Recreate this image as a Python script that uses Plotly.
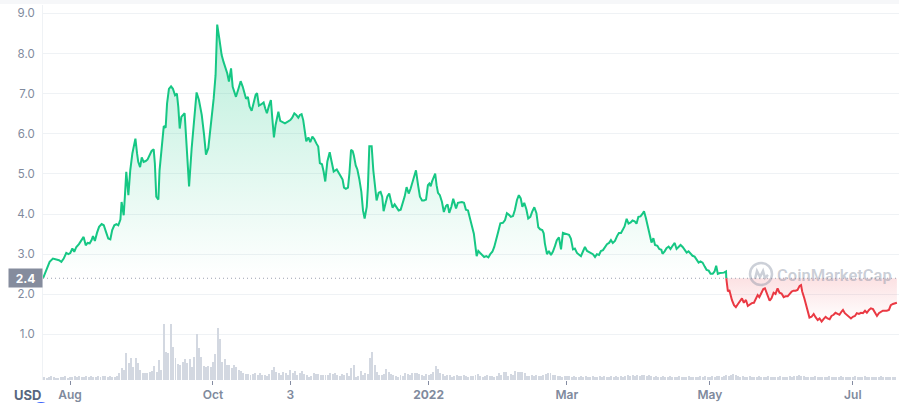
import pandas as pd
import plotly.graph_objects as go

# ---------------- data ----------------
START = pd.Timestamp("2021-07-20")

# price samples: days since START, price in USD
price_day = [
    0.5, 1.9, 3.3, 4.7, 6.2, 7.3, 8.3, 9.3, 10.4, 11.3, 12.1, 13.0, 13.8, 14.7, 15.8, 16.8, 17.8, 18.7, 19.5, 20.4,
    21.2, 21.8, 22.6, 23.5, 24.4, 25.5, 26.4, 27.2, 28.3, 29.2, 30.0, 30.9, 31.8, 32.6, 33.5, 34.0, 34.9, 35.4, 36.0, 36.9,
    37.7, 38.6, 39.1, 39.9, 40.6, 41.1, 41.9, 42.6, 43.4, 44.3, 45.1, 46.0, 46.8, 47.7, 48.2, 48.8, 49.7, 50.2, 51.1, 52.0,
    52.8, 53.4, 54.2, 55.1, 55.9, 56.8, 57.6, 58.2, 58.8, 59.5, 60.9,
    62.8, 63.9, 64.9, 66.0, 67.0, 68.2, 69.2, 70.0, 71.0, 72.1, 73.3, 74.1, 74.8, 75.7, 76.7, 77.5, 78.4, 79.1, 79.8, 80.7,
    81.4, 82.1, 82.8, 83.8, 84.8, 85.7, 86.4, 87.1, 87.9, 88.6, 89.5, 90.3, 91.2, 91.8, 92.6, 93.5, 94.6, 95.3, 96.0, 96.9,
    97.7, 98.3, 99.0, 99.7, 100.9, 101.7, 102.6, 103.7, 104.9, 106.0, 106.8, 107.7, 108.5, 109.4, 110.1, 110.8, 111.5, 112.2, 112.8, 113.7,
    114.5, 115.4, 116.2, 117.1, 117.9, 118.6, 119.5, 120.2, 120.9, 121.8, 122.8, 123.6, 124.5,
    125.8, 126.6, 127.5, 128.3, 128.9, 129.7, 130.6, 131.2, 131.9, 132.6, 133.1, 133.9, 134.6, 135.4, 136.3, 137.0, 137.7, 138.6, 139.1, 139.7,
    140.7, 141.4, 142.3, 142.8, 143.7, 144.5, 145.2, 145.8, 146.5, 147.4, 148.2, 148.9, 149.6, 150.5, 151.4, 152.2, 153.1, 153.9, 154.8, 155.6,
    156.5, 157.3, 158.2, 158.9, 159.6, 160.5, 161.3, 162.2, 163.0, 163.9, 164.7, 165.3, 165.9, 166.4, 167.3, 167.8, 168.4, 169.0, 169.8, 170.7,
    171.5, 172.4, 173.1, 173.8, 174.7, 175.5, 176.1, 176.7, 177.5, 178.4, 179.2, 180.1, 180.9, 181.8, 182.6, 183.5, 184.3,
    185.5, 186.2, 187.0, 187.9, 188.7, 189.6, 190.5, 191.3, 192.2, 193.0, 193.9, 194.7, 195.6, 196.7, 197.6, 198.4, 199.3, 200.1, 201.0, 201.8,
    202.7, 203.5, 204.3, 205.0, 205.8, 206.7, 207.5, 208.4, 209.2, 210.1, 211.0, 211.8, 212.6, 213.5, 214.1, 214.6, 215.5, 216.3, 217.2, 218.0,
    218.9, 219.7, 220.6, 221.5, 222.3, 223.2, 224.0, 224.9, 225.7, 226.6, 227.4, 228.3, 229.1, 230.0, 230.8, 231.7, 232.6, 233.4, 234.3, 235.1,
    236.0, 236.8, 237.7, 238.5, 239.4, 240.2, 241.1, 242.0, 242.8, 243.6, 244.5, 245.4, 246.2, 247.1, 247.9,
    248.6, 249.5, 250.3, 251.2, 252.0, 252.9, 253.7, 254.5, 255.4, 256.3, 256.9, 257.7, 258.6, 259.4, 260.1, 260.9, 261.6, 262.6, 263.4, 264.3,
    264.8, 265.7, 266.5, 267.4, 268.2, 269.1, 270.0, 270.8, 271.7, 272.5, 273.4, 274.2, 275.1, 275.9, 276.8, 277.6, 278.5, 279.3, 280.2, 281.0,
    281.9, 282.8, 283.6, 284.5, 285.3, 286.2, 287.0, 287.7, 288.4, 289.3, 290.1, 291.0, 291.9, 292.0,
    292.2, 292.7, 293.3, 293.8, 294.4, 295.3, 296.1, 297.0, 297.8, 298.7, 299.5, 300.4, 301.2, 302.1, 302.9, 303.8, 304.6, 305.4, 306.1, 306.9,
    307.8, 308.5, 309.6, 310.5, 311.3, 312.2, 313.0, 313.9, 314.7, 315.6, 316.5, 317.3, 318.2, 319.0, 319.9, 320.7, 321.6, 322.4, 323.3, 323.9,
    324.4, 325.3, 326.1, 327.0, 327.5, 328.4, 329.3, 330.1, 331.0, 331.8, 332.7, 333.5, 334.4, 335.2, 336.1, 336.9, 337.8, 338.6, 339.5, 340.3,
    341.2, 341.8, 342.6, 343.5, 344.3, 345.2, 346.0, 346.9, 347.7, 348.6, 349.5, 350.3, 351.2, 352.0, 352.9, 353.7, 354.6, 355.4, 356.3, 357.1,
    358.0, 358.8, 359.7, 360.5, 361.4, 362.2, 363.1, 363.9, 364.8,
]
price_usd = [
    2.40, 2.60, 2.81, 2.89, 2.87, 2.85, 2.81, 2.89, 3.03, 3.00, 3.03, 3.14, 3.06, 3.18, 3.25, 3.35, 3.43, 3.22, 3.28, 3.27,
    3.35, 3.45, 3.33, 3.53, 3.68, 3.75, 3.72, 3.58, 3.39, 3.37, 3.60, 3.72, 3.75, 3.72, 3.86, 4.30, 3.97, 4.43, 5.05, 4.47,
    5.09, 5.51, 5.69, 5.88, 5.51, 5.30, 5.17, 5.41, 5.30, 5.32, 5.36, 5.46, 5.57, 5.61, 5.26, 4.43, 4.36, 5.09, 5.59, 6.19,
    6.15, 6.75, 7.12, 7.18, 7.12, 6.96, 7.00, 6.67, 6.13, 6.42, 6.51,
    4.69, 5.64, 6.22, 7.03, 6.84, 6.47, 5.97, 5.48, 5.64, 6.22, 6.88, 7.46, 8.72, 8.37, 7.96, 7.79, 7.64, 7.50, 7.30, 7.63,
    7.17, 7.01, 6.92, 7.11, 7.31, 7.17, 7.01, 6.87, 6.92, 6.68, 6.57, 6.76, 6.97, 7.01, 6.70, 6.73, 6.78, 6.63, 6.51, 6.70,
    6.84, 6.39, 5.91, 6.22, 6.55, 6.32, 6.30, 6.26, 6.30, 6.34, 6.40, 6.51, 6.47, 6.40, 6.47, 6.49, 6.34, 6.10, 5.81, 5.91,
    5.79, 5.93, 5.87, 5.76, 5.68, 5.27, 5.24, 5.06, 4.81, 5.31, 5.54, 5.31, 5.06,
    5.11, 5.01, 4.94, 4.86, 4.66, 4.63, 4.66, 5.01, 5.60, 5.57, 5.46, 5.21, 5.11, 4.88, 4.55, 4.09, 3.89, 4.18, 4.67, 5.69,
    5.69, 5.09, 4.59, 4.34, 4.53, 4.55, 4.43, 4.07, 4.24, 4.44, 4.51, 4.30, 4.16, 4.24, 4.16, 4.09, 4.11, 4.24, 4.44, 4.67,
    4.51, 4.63, 4.80, 4.96, 5.09, 4.72, 4.43, 4.34, 4.34, 4.36, 4.72, 4.76, 4.69, 4.80, 4.92, 5.01, 4.72, 4.53, 4.47, 4.30,
    4.05, 4.20, 4.24, 4.03, 4.18, 4.38, 4.26, 4.14, 4.28, 4.30, 4.30, 4.28, 4.11, 4.09, 3.91, 3.72, 3.51,
    2.95, 3.08, 3.03, 2.98, 2.93, 2.95, 2.92, 3.00, 3.06, 3.18, 3.35, 3.56, 3.77, 3.78, 3.85, 4.02, 3.98, 3.93, 3.95, 4.10,
    4.35, 4.47, 4.39, 4.18, 4.28, 4.12, 3.89, 3.93, 4.06, 4.17, 4.02, 3.67, 3.62, 3.60, 3.52, 3.27, 3.00, 3.08, 2.98, 3.06,
    3.20, 3.35, 3.42, 3.12, 3.53, 3.52, 3.50, 3.48, 3.39, 3.12, 3.14, 3.03, 2.98, 2.95, 3.06, 3.18, 3.08, 3.06, 3.02, 3.00,
    2.93, 3.00, 2.98, 3.08, 3.10, 3.18, 3.25, 3.28, 3.35, 3.28, 3.33, 3.45, 3.53, 3.53, 3.60,
    3.69, 3.88, 3.76, 3.79, 3.84, 3.82, 3.76, 3.93, 3.94, 4.01, 4.07, 3.90, 3.69, 3.48, 3.29, 3.40, 3.23, 3.21, 3.13, 3.11,
    3.01, 3.07, 3.15, 3.19, 3.13, 3.21, 3.28, 3.13, 3.19, 3.23, 3.18, 3.11, 3.04, 3.07, 3.01, 2.96, 2.94, 2.88, 2.79, 2.82,
    2.79, 2.69, 2.61, 2.59, 2.51, 2.51, 2.57, 2.71, 2.51, 2.53, 2.53, 2.54, 2.57, 2.40,
    2.32, 2.07, 2.11, 1.98, 1.86, 1.73, 1.68, 1.76, 1.84, 1.90, 1.79, 1.86, 1.71, 1.76, 1.78, 1.79, 1.88, 1.98, 1.93, 2.03,
    2.13, 2.15, 1.96, 1.84, 1.90, 2.04, 2.01, 2.15, 2.04, 2.02, 1.93, 1.95, 1.95, 2.01, 2.07, 2.09, 2.09, 2.11, 2.21, 2.23,
    2.07, 1.90, 1.73, 1.57, 1.42, 1.44, 1.51, 1.43, 1.36, 1.40, 1.32, 1.38, 1.44, 1.40, 1.38, 1.46, 1.49, 1.54, 1.51, 1.49,
    1.57, 1.61, 1.53, 1.49, 1.44, 1.40, 1.44, 1.46, 1.53, 1.51, 1.54, 1.53, 1.59, 1.54, 1.61, 1.65, 1.63, 1.54, 1.46, 1.53,
    1.57, 1.59, 1.59, 1.59, 1.61, 1.73, 1.76, 1.78, 1.79,
]

# daily traded volume (relative units), one bar per day from START
volume = [
    2, 3, 2, 3, 4, 3, 2, 2, 3, 3, 4, 2, 3, 3, 4, 3, 4, 3, 3, 4, 3, 4, 3, 3, 4, 3, 4, 4, 3, 4, 3,
    3, 4, 7, 12, 10, 27, 17, 22, 13, 22, 17, 10, 7, 7, 7, 8, 9, 14, 8, 20, 10, 56, 28, 27, 56, 33, 22, 16, 15, 18,
    21, 17, 21, 13, 23, 46, 32, 23, 14, 13, 14, 13, 18, 26, 52, 41, 18, 21, 15, 15, 12, 15, 13, 10, 9, 7, 6, 6, 5, 6,
    7, 5, 7, 5, 5, 4, 6, 10, 13, 8, 7, 5, 8, 7, 5, 10, 7, 9, 5,
    7, 9, 6, 5, 3, 4, 7, 6, 6, 5, 5, 5, 5, 7, 6, 7, 5, 4, 6, 5, 7, 4, 12, 15, 3, 4, 9, 5, 7, 6,
    22, 28, 15, 8, 5, 5, 6, 11, 8, 6, 5, 4, 3, 5, 4, 7, 6, 5, 7, 7, 7, 6, 5, 4, 6, 5, 6, 8, 14, 11,
    7, 6, 4, 5, 5, 3, 4, 5, 4, 4, 5, 4, 3, 4, 4, 5, 6, 4, 3, 4, 5, 4, 4, 3, 4, 7, 5, 8, 8, 4,
    6, 5, 9, 8, 8, 8, 7, 4, 4, 5, 4, 5, 4, 4, 5, 6, 7, 7, 5, 5, 4, 4, 3, 4, 4, 4, 3, 4, 3, 3,
    4, 3, 4, 3, 3, 4, 3, 3, 4,
    3, 4, 3, 3, 4, 3, 4, 3, 4, 3, 4, 5, 4, 5, 4, 5, 4, 5, 5, 4, 5, 4, 3, 4, 3, 3, 4, 3, 3, 4,
    3, 3, 3, 4, 3, 3, 3, 4, 3, 3, 3, 3, 4, 3, 4, 3, 3, 4, 3, 4, 4, 3, 4, 5, 4, 5, 6, 5, 4, 3,
    4, 3, 3, 4, 3, 3, 3, 4, 3, 3, 3, 4, 3, 3, 3, 3, 4, 3, 3, 3, 4, 3, 4, 4, 5, 4, 4, 3, 3, 3,
    3, 4, 3, 3, 3, 3, 3, 4, 3, 3, 3, 3, 4, 3, 3, 3, 3, 3, 4, 3, 3, 3, 4, 3, 3, 3, 3, 3, 3, 4,
    3, 3, 3, 3, 3, 3,
]

BASELINE = 2.4
tick_dates = ["2021-08-01", "2021-10-01", "2021-11-03", "2022-01-01", "2022-03-01", "2022-05-01", "2022-07-01"]
tick_labels = ["Aug", "Oct", "3", "<b>2022</b>", "Mar", "May", "Jul"]
price_ticks = [1, 2, 3, 4, 5, 6, 7, 8, 9]

# ---------------- styling ----------------
GREEN = "#16c784"
RED = "#ea3943"
GRID = "#eff2f5"
LABEL = "#808a9d"
FONT = "Inter, Roboto, sans-serif"

dates = START + pd.to_timedelta(price_day, unit="D")
vol_dates = START + pd.to_timedelta(list(range(len(volume))), unit="D")

# split where the line falls below the baseline for good
k = max(i for i, v in enumerate(price_usd) if v >= BASELINE)
g_x, g_y = dates[: k + 1], price_usd[: k + 1]
r_x, r_y = dates[k:], price_usd[k:]

fig = go.Figure()

fig.add_trace(go.Bar(
    x=vol_dates, y=volume, yaxis="y2",
    marker=dict(color="#d3d8e1", line=dict(width=0)),
    width=0.42 * 86400000, hoverinfo="skip", showlegend=False,
))

# green area (above baseline)
fig.add_trace(go.Scatter(x=[g_x[0], g_x[-1]], y=[BASELINE, BASELINE], mode="lines",
                         line=dict(width=0), hoverinfo="skip", showlegend=False))
fig.add_trace(go.Scatter(
    x=g_x, y=g_y, mode="lines", line=dict(color=GREEN, width=2),
    fill="tonexty",
    fillgradient=dict(type="vertical", start=BASELINE, stop=max(g_y),
                      colorscale=[[0, "rgba(22,199,132,0.0)"], [1, "rgba(22,199,132,0.30)"]]),
    showlegend=False,
))

# red area (below baseline)
fig.add_trace(go.Scatter(x=[r_x[0], r_x[-1]], y=[BASELINE, BASELINE], mode="lines",
                         line=dict(width=0), hoverinfo="skip", showlegend=False))
fig.add_trace(go.Scatter(
    x=r_x, y=r_y, mode="lines", line=dict(color=RED, width=2),
    fill="tonexty",
    fillgradient=dict(type="vertical", start=min(r_y), stop=BASELINE,
                      colorscale=[[0, "rgba(234,57,67,0.0)"], [1, "rgba(234,57,67,0.15)"]]),
    showlegend=False,
))

x_range = [START + pd.Timedelta(days=0.47), START + pd.Timedelta(days=365.7)]

fig.update_layout(
    width=899, height=403,
    margin=dict(l=43, r=0, t=5, b=23),
    paper_bgcolor="white", plot_bgcolor="white",
    font=dict(family=FONT, color=LABEL),
    bargap=0,
    xaxis=dict(
        range=x_range, type="date",
        tickvals=tick_dates, ticktext=tick_labels,
        ticks="outside", ticklen=4, tickwidth=1, tickcolor="#858ca2",
        tickfont=dict(size=12, color=LABEL, family=FONT, weight=600),
        showgrid=False, zeroline=False, showline=False,
    ),
    yaxis=dict(
        range=[-0.135, 9.208],
        tickvals=price_ticks, tickformat=".1f",
        tickfont=dict(size=11.5, color=LABEL, family=FONT),
        ticks="", ticklabelstandoff=5,
        showgrid=True, gridcolor=GRID, gridwidth=1,
        zeroline=False, showline=True, linecolor=GRID, linewidth=1,
    ),
    yaxis2=dict(
        range=[0, 375], overlaying="y", side="right",
        showgrid=False, showticklabels=False, zeroline=False, showline=False,
    ),
    shapes=[
        # dotted baseline
        dict(type="line", xref="paper", x0=0, x1=1, yref="y", y0=BASELINE, y1=BASELINE,
             line=dict(color="#9aa1b0", width=1, dash="1px,3px"), layer="above"),
        # faint top band
        dict(type="rect", xref="paper", x0=-0.06, x1=1, yref="paper", y0=1.0027, y1=1.02,
             fillcolor="#f6f7f9", line=dict(width=0), layer="below"),
        # watermark logo ring
        dict(type="circle", xref="paper", yref="paper", xsizemode="pixel", ysizemode="pixel",
             xanchor=0.8388, yanchor=0.2827, x0=-11, x1=11, y0=-11, y1=11,
             line=dict(color="rgba(128,138,157,0.40)", width=2.5)),
        dict(type="path", xref="paper", yref="paper", xsizemode="pixel", ysizemode="pixel",
             xanchor=0.8388, yanchor=0.2827,
             path="M -6 -5 L -4 3 L -1 -3 L 2 3 L 4 -4 L 7 -1",
             line=dict(color="rgba(128,138,157,0.40)", width=2.5)),
        # blue control arc under "USD"
        dict(type="circle", xref="paper", yref="paper", xsizemode="pixel", ysizemode="pixel",
             xanchor=(41 - 43) / 856, yanchor=(380 - 412) / 375, x0=-9, x1=9, y0=-9, y1=9,
             line=dict(color="#3861fb", width=2)),
    ],
    annotations=[
        dict(text="<b>2.4</b>", xref="paper", x=0, xanchor="right", yref="y", y=BASELINE,
             yanchor="middle", showarrow=False, bgcolor="#858c9d", width=33, height=18,
             borderpad=0, font=dict(color="white", size=12, family=FONT)),
        dict(text="<b>USD</b>", xref="paper", x=(27 - 43) / 856, xanchor="center",
             yref="paper", y=(380 - 395) / 375, yanchor="middle", showarrow=False,
             font=dict(color="#58667e", size=13, family=FONT)),
        dict(text="CoinMarketCap", xref="paper", x=(834 - 43) / 856, xanchor="center",
             yref="paper", y=(380 - 275) / 375, yanchor="middle", showarrow=False,
             font=dict(color="rgba(128,138,157,0.42)", size=16.5, family="Roboto", weight=600)),
    ],
)

fig.write_html(
    "out.html",
    config={"displayModeBar": False},
    post_script="document.body.style.margin='0';document.body.style.overflow='hidden';",
)
